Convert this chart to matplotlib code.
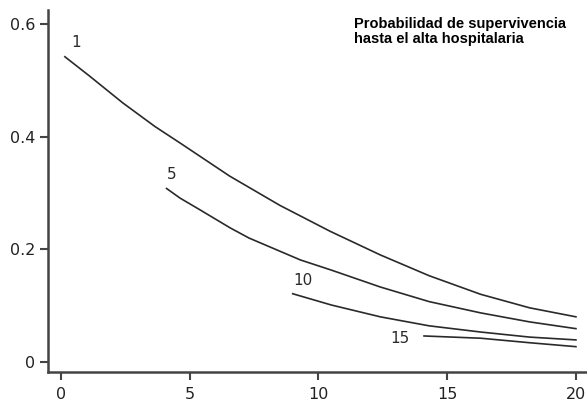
import numpy as np
import matplotlib
matplotlib.use("Agg")
import matplotlib.pyplot as plt

# Curves (x axis units, y = survival probability)
x1 = [0.15, 1.1, 2.4, 3.65, 4.65, 6.55, 8.5, 10.45, 12.4, 14.3, 16.3, 18.2, 20]
y1 = [0.542, 0.508, 0.460, 0.418, 0.388, 0.330, 0.278, 0.232, 0.190, 0.153, 0.120, 0.096, 0.080]

x5 = [4.1, 4.62, 5.4, 6.57, 7.3, 9.3, 10.5, 12.4, 14.3, 16.3, 18.2, 20]
y5 = [0.308, 0.291, 0.270, 0.238, 0.220, 0.181, 0.163, 0.133, 0.107, 0.087, 0.071, 0.059]

x10 = [9.0, 10.5, 12.4, 14.3, 16.3, 18.2, 20]
y10 = [0.121, 0.101, 0.080, 0.064, 0.053, 0.044, 0.039]

x15 = [14.1, 16.3, 18.2, 20]
y15 = [0.046, 0.042, 0.034, 0.027]

curve_labels = ['1', '5', '10', '15']
label_x = [0.58, 4.31, 9.4, 13.17]
label_y = [0.568, 0.332, 0.144, 0.041]

xticks = [0, 5, 10, 15, 20]
yticks = [0, 0.2, 0.4, 0.6]
ytick_labels = ['0', '0.2', '0.4', '0.6']

fig = plt.figure(figsize=(5.87, 4.01), dpi=100)
ax = fig.add_axes([48 / 587, 29 / 401, 1 - 48 / 587, (372 - 10) / 401])

ink = '#2a2a2a'
for xs, ys in [(x1, y1), (x5, y5), (x10, y10), (x15, y15)]:
    ax.plot(xs, ys, color=ink, lw=1.2)

for lab, lx, ly in zip(curve_labels, label_x, label_y):
    ax.text(lx, ly, lab, ha='center', va='center', fontsize=11, color=ink)

ax.set_xlim(-0.505, 20.43)
ax.set_ylim(-0.018, 0.625)
ax.set_xticks(xticks)
ax.set_yticks(yticks)
ax.set_yticklabels(ytick_labels)

for side in ['top', 'right']:
    ax.spines[side].set_visible(False)
for side in ['left', 'bottom']:
    ax.spines[side].set_color('#444444')
    ax.spines[side].set_linewidth(1.8)

ax.tick_params(axis='both', colors='#444444', labelcolor='#222222',
               labelsize=11.5, length=6, width=1.5, direction='out')
ax.tick_params(axis='y', pad=3)
ax.tick_params(axis='x', pad=5)

fig.text(354 / 587, 1 - 17 / 401,
         'Probabilidad de supervivencia\nhasta el alta hospitalaria',
         family='Liberation Sans', fontweight='bold', fontsize=10.5,
         ha='left', va='top', linespacing=1.1, color='black')

fig.savefig('out.png', dpi=100)
